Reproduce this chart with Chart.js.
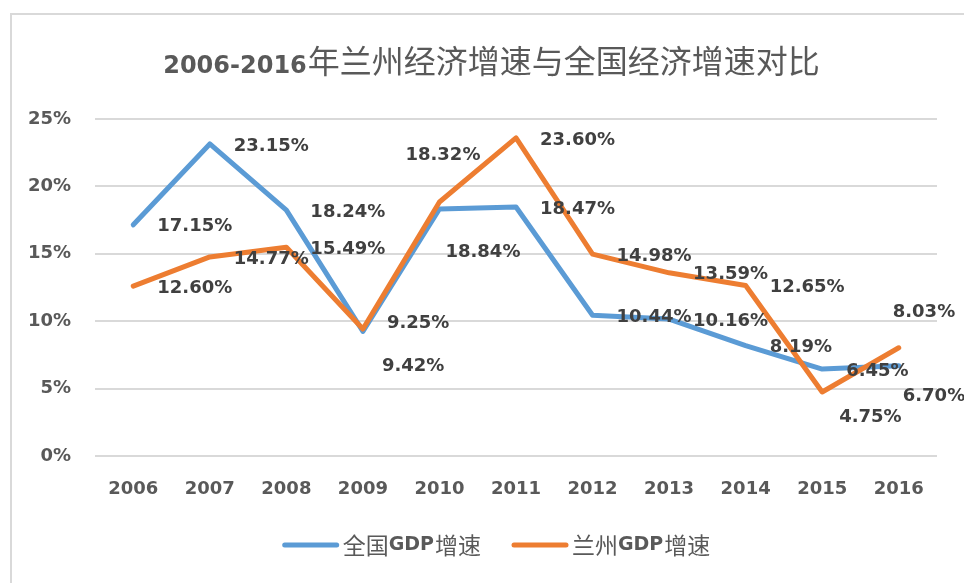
<!DOCTYPE html>
<html>
<head>
<meta charset="utf-8">
<script src="https://cdn.jsdelivr.net/npm/chart.js@4.4.1/dist/chart.umd.min.js"></script>
<style>
  html, body { margin: 0; padding: 0; background: #ffffff; }
  #wrap { width: 964px; height: 583px; }
</style>
</head>
<body>
<div id="wrap"><canvas id="growthChart" width="964" height="583"></canvas></div>
<script>
// GDP growth, Lanzhou vs national, 2006-2016 (%)
const years = ['2006', '2007', '2008', '2009', '2010', '2011', '2012', '2013', '2014', '2015', '2016'];
const nationalGrowth = [17.15, 23.15, 18.24, 9.25, 18.32, 18.47, 10.44, 10.16, 8.19, 6.45, 6.70];
const lanzhouGrowth = [12.60, 14.77, 15.49, 9.42, 18.84, 23.60, 14.98, 13.59, 12.65, 4.75, 8.03];
const seriesNames = ['全国GDP增速', '兰州GDP增速'];
const yMin = 0;
const yMax = 25;
const yStep = 5;
const chartTitle = '2006-2016年兰州经济增速与全国经济增速对比';

// value labels sit to the right of each point; a few were dragged elsewhere
const labelDefault = [24, 2];
const labelMoved = [
    { 3: [24, -8], 4: [-34, -54], 10: [4, 31] },
    { 3: [19, 37], 4: [6, 50], 9: [17, 25], 10: [-6, -35] }
];

const BLUE = '#5B9BD5';
const ORANGE = '#ED7D31';
const NUM_FONT = '"DejaVu Sans", sans-serif';
const CJK_FONT = '"Noto Sans CJK SC", sans-serif';

// split text into latin / CJK runs so each gets its own face
function textRuns(text) {
    return text.match(/[\u3000-\u9fff]+|[^\u3000-\u9fff]+/g) || [];
}
function isCjk(run) { return /[\u3000-\u9fff]/.test(run); }

function measureMixed(ctx, text, latinFont, cjkFont) {
    let w = 0;
    textRuns(text).forEach(function (r) {
        ctx.font = isCjk(r) ? cjkFont : latinFont;
        w += ctx.measureText(r).width;
    });
    return w;
}

function drawMixed(ctx, text, x, y, latinFont, cjkFont) {
    textRuns(text).forEach(function (r) {
        ctx.font = isCjk(r) ? cjkFont : latinFont;
        ctx.fillText(r, x, y);
        x += ctx.measureText(r).width + (isCjk(r) ? 0 : 1);
    });
}

const framePlugin = {
    id: 'frame',
    beforeDraw: function (chart) {
        const ctx = chart.ctx;
        ctx.save();
        ctx.strokeStyle = '#d9d9d9';
        ctx.lineWidth = 2;
        ctx.beginPath();
        ctx.moveTo(11, chart.height);
        ctx.lineTo(11, 14);
        ctx.lineTo(chart.width, 14);
        ctx.stroke();
        ctx.restore();
    }
};

const titlePlugin = {
    id: 'mixedTitle',
    afterDraw: function (chart) {
        const ctx = chart.ctx;
        const latin = 'bold 24px ' + NUM_FONT;
        const cjk = '32px ' + CJK_FONT;
        ctx.save();
        ctx.fillStyle = '#595959';
        ctx.textBaseline = 'alphabetic';
        ctx.textAlign = 'left';
        const w = measureMixed(ctx, chartTitle, latin, cjk);
        drawMixed(ctx, chartTitle, 491 - w / 2, 73, latin, cjk);
        ctx.restore();
    }
};

// legend row under the axis: short line swatch then series name
const legendPlugin = {
    id: 'lineLegend',
    afterDraw: function (chart) {
        const ctx = chart.ctx;
        const swatch = 56, gapText = 4, gapItem = 32, cy = 545;
        const latin = 'bold 19px ' + NUM_FONT;
        const cjk = '23px ' + CJK_FONT;
        ctx.save();
        ctx.textAlign = 'left';
        ctx.textBaseline = 'middle';
        const items = chart.data.datasets.map(function (ds) {
            return { text: ds.label, color: ds.borderColor, w: measureMixed(ctx, ds.label, latin, cjk) };
        });
        let total = 0;
        items.forEach(function (it, i) { total += swatch + gapText + it.w + (i ? gapItem : 0); });
        let x = 496 - total / 2;
        items.forEach(function (it) {
            ctx.strokeStyle = it.color;
            ctx.lineWidth = 5;
            ctx.lineCap = 'round';
            ctx.beginPath();
            ctx.moveTo(x + 2, cy);
            ctx.lineTo(x + swatch - 2, cy);
            ctx.stroke();
            ctx.fillStyle = '#595959';
            drawMixed(ctx, it.text, x + swatch + gapText, cy, latin, cjk);
            x += swatch + gapText + it.w + gapItem;
        });
        ctx.restore();
    }
};

const valueLabelPlugin = {
    id: 'valueLabels',
    afterDatasetsDraw: function (chart) {
        const ctx = chart.ctx;
        ctx.save();
        ctx.font = 'bold 18px ' + NUM_FONT;
        ctx.fillStyle = '#404040';
        ctx.textAlign = 'left';
        ctx.textBaseline = 'middle';
        chart.data.datasets.forEach(function (ds, di) {
            const meta = chart.getDatasetMeta(di);
            meta.data.forEach(function (pt, i) {
                const off = labelMoved[di][i] || labelDefault;
                ctx.fillText(ds.data[i].toFixed(2) + '%', pt.x + off[0], pt.y + off[1]);
            });
        });
        ctx.restore();
    }
};

const ctx = document.getElementById('growthChart').getContext('2d');
new Chart(ctx, {
    type: 'line',
    data: {
        labels: years,
        datasets: [
            {
                label: seriesNames[0],
                data: nationalGrowth,
                borderColor: BLUE,
                backgroundColor: BLUE,
                borderWidth: 5,
                borderCapStyle: 'round',
                borderJoinStyle: 'round',
                pointRadius: 0,
                tension: 0,
                order: 1
            },
            {
                label: seriesNames[1],
                data: lanzhouGrowth,
                borderColor: ORANGE,
                backgroundColor: ORANGE,
                borderWidth: 5,
                borderCapStyle: 'round',
                borderJoinStyle: 'round',
                pointRadius: 0,
                tension: 0,
                order: 0
            }
        ]
    },
    options: {
        responsive: false,
        animation: false,
        layout: { padding: { top: 119, right: 27, bottom: 0, left: 0 } },
        plugins: {
            title: { display: false },
            tooltip: { enabled: false },
            legend: { display: false }
        },
        scales: {
            x: {
                offset: true,
                grid: { display: false, drawTicks: false },
                border: { display: false },
                ticks: {
                    color: '#595959',
                    padding: 23,
                    maxRotation: 0,
                    font: { family: NUM_FONT, size: 18, weight: 'bold' }
                },
                afterFit: function (scale) { scale.height = 127; }
            },
            y: {
                min: yMin,
                max: yMax,
                grid: { color: '#d9d9d9', lineWidth: 2, drawTicks: false },
                border: { display: false },
                ticks: {
                    stepSize: yStep,
                    color: '#595959',
                    padding: 24,
                    font: { family: NUM_FONT, size: 18, weight: 'bold' },
                    callback: function (v) { return v + '%'; }
                },
                afterFit: function (scale) { scale.width = 95; }
            }
        }
    },
    plugins: [framePlugin, titlePlugin, legendPlugin, valueLabelPlugin]
});
</script>
</body>
</html>
